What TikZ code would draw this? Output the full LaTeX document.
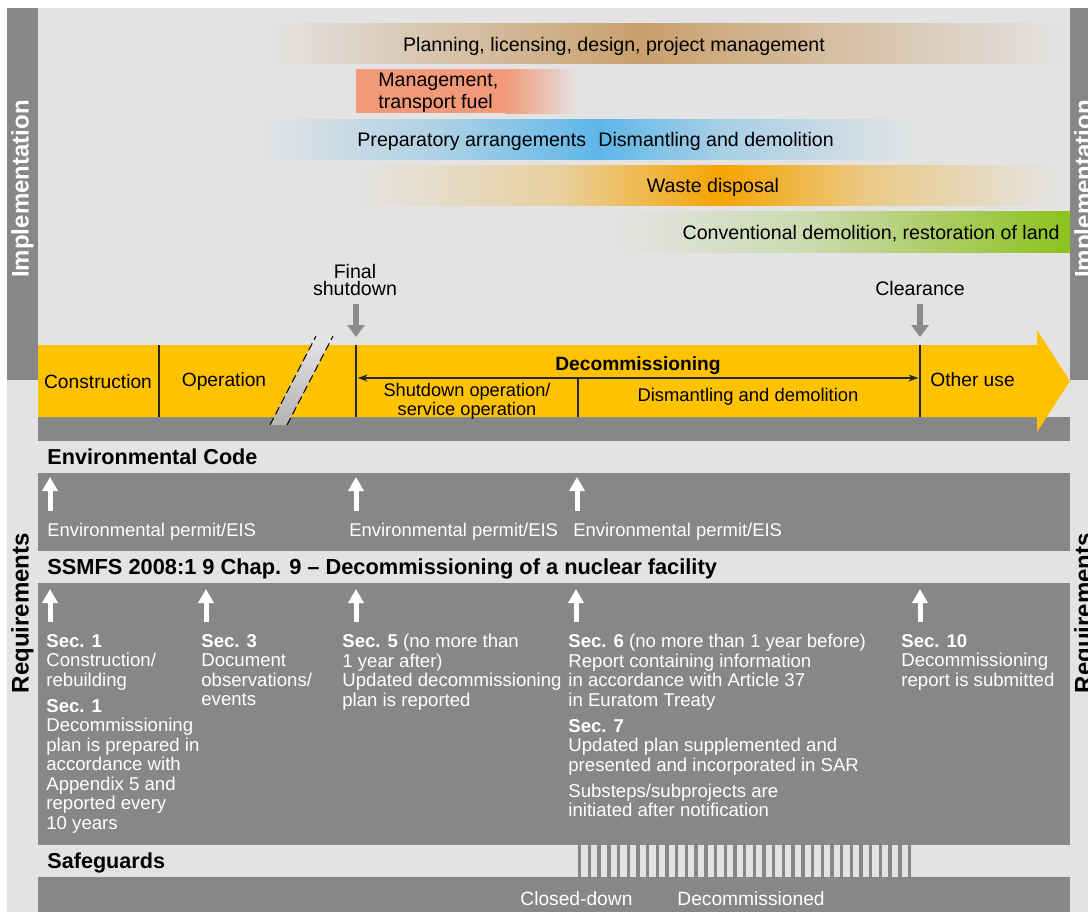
\documentclass[tikz,border=0pt]{standalone}
\usepackage{fontspec}
\setmainfont{Liberation Sans}
\usetikzlibrary{arrows.meta}

\definecolor{bglight}{HTML}{E3E3E3}
\definecolor{boxgray}{HTML}{878787}
\definecolor{arrowgray}{HTML}{8C8C8C}
\definecolor{phaseyellow}{HTML}{FEC200}
\definecolor{planbrown}{HTML}{C9A06D}
\definecolor{fuelred}{HTML}{F2997A}
\definecolor{prepblue}{HTML}{5DB6E8}
\definecolor{wasteorange}{HTML}{F5A400}
\definecolor{landgreen}{HTML}{8CC21E}

\begin{document}
\begin{tikzpicture}[x=0.5pt, y=-0.5pt,
  bandtext/.style={font=\fontsize{9.8}{11}\selectfont, inner sep=0pt},
  phasetext/.style={font=\fontsize{9.6}{8}\selectfont, inner sep=0pt, align=center},
  headtext/.style={font=\fontsize{10.8}{12}\selectfont\bfseries, anchor=base west, inner sep=0pt},
  reqtext/.style={font=\fontsize{9.3}{9.75}\selectfont, text=white, anchor=north west, align=left, inner sep=0pt},
  permtext/.style={font=\fontsize{9.2}{9.75}\selectfont, text=white, anchor=base west, inner sep=0pt},
  sidetext/.style={font=\fontsize{12}{12}\selectfont\bfseries, rotate=90, inner sep=0pt},
  milestone/.style={arrowgray, line width=3pt, -{Triangle[width=8.5pt,length=6pt]}},
  requp/.style={white, line width=2.5pt, -{Triangle[width=7.5pt,length=7pt]}},
  divider/.style={line width=0.6pt, black!85}]
  \useasboundingbox (0,0) rectangle (1088,912);
  \clip (0,0) rectangle (1088,912);

  % ---- background ----
  \fill[white] (0,0) rectangle (1088,912);
  \fill[bglight] (7,8) rectangle (1088,912);
  \fill[boxgray] (7,8) rectangle (38,380);
  \fill[boxgray] (1070,8) rectangle (1088,380);
  \node[sidetext, text=white] (implL) at (22.5,189) {Implementation};
  \node[sidetext, text=white] (implR) at (1085.5,189) {Implementation};
  \node[sidetext] (reqL) at (22.5,613) {Requirements};
  \node[sidetext] (reqR) at (1085.5,613) {Requirements};

  % ---- implementation bands ----
  % Planning
  \shade[left color=bglight, right color=planbrown] (265,23) rectangle (640,63);
  \shade[left color=planbrown, right color=bglight] (639.5,23) rectangle (1068,63);
  \node[bandtext, anchor=base] (plan) at (614,51) {Planning, licensing, design, project management};
  % Management fuel
  \fill[fuelred] (356,69) rectangle (506,113);
  \shade[left color=fuelred, right color=bglight] (505.5,69) rectangle (578,113);
  \node[bandtext, anchor=north west, align=left] (fuel) at (378,72.5) {Management,\\transport fuel};
  % Preparatory / dismantling
  \shade[left color=bglight, right color=prepblue!40!bglight] (258,119) rectangle (440,159);
  \shade[left color=prepblue!40!bglight, right color=prepblue] (439.5,119) rectangle (600,159);
  \shade[left color=prepblue, right color=prepblue!45!bglight] (599.5,119) rectangle (720,159);
  \shade[left color=prepblue!45!bglight, right color=bglight] (719.5,119) rectangle (918,159);
  \node[bandtext, anchor=base west] (prep) at (357,146) {Preparatory arrangements};
  \node[bandtext, anchor=base west] (dism) at (598,146) {Dismantling and demolition};
  % Waste
  \shade[left color=bglight, right color=wasteorange!30!bglight] (355,165) rectangle (560,205);
  \shade[left color=wasteorange!30!bglight, right color=wasteorange] (559.5,165) rectangle (720,205);
  \shade[left color=wasteorange, right color=wasteorange!40!bglight] (719.5,165) rectangle (870,205);
  \shade[left color=wasteorange!40!bglight, right color=bglight] (869.5,165) rectangle (1058,205);
  \node[bandtext, anchor=base] (waste) at (713,192) {Waste disposal};
  % Conventional demolition
  \shade[left color=bglight, right color=landgreen!25!bglight] (610,211) rectangle (800,252);
  \shade[left color=landgreen!25!bglight, right color=landgreen] (799.5,211) rectangle (1070,252);
  \node[bandtext, anchor=base east] (land) at (1060,239) {Conventional demolition, restoration of land};

  % ---- milestones ----
  \node[bandtext, font=\fontsize{9.8}{8.5}\selectfont, align=center, anchor=north] (final) at (355,263.5) {Final\\shutdown};
  \node[bandtext, anchor=base] (clear) at (920,295) {Clearance};
  \coordinate (finalpt) at (356,337);
  \coordinate (clearpt) at (920,337);
  \draw[milestone, shorten <=4pt] (final.south -| finalpt) -- (finalpt);
  \draw[milestone, shorten <=4pt] (clear.south -| clearpt) -- (clearpt);

  % ---- phase arrow ----
  \fill[boxgray] (38,417) rectangle (1070,441);
  \fill[phaseyellow] (38,345) -- (1037,345) -- (1037,330) -- (1070,381)
    -- (1037,432) -- (1037,417) -- (38,417) -- cycle;
  \draw[divider] (159,345) -- (159,417);
  \draw[divider] (356,345) -- (356,417);
  \draw[divider] (578,378) -- (578,417);
  \draw[divider] (920,345) -- (920,417);
  \coordinate (decL) at (356,378);
  \coordinate (decR) at (920,378);
  \draw[divider, {Stealth[length=5pt,width=3.5pt]}-{Stealth[length=5pt,width=3.5pt]}, shorten <=0.8pt, shorten >=0.8pt] (decL) -- (decR);
  % break mark
  \shade[top color=gray!20, bottom color=gray!60] (270,425) -- (316,336) -- (333,336) -- (287,425) -- cycle;
  \draw[line width=0.5pt, dash pattern=on 4pt off 2pt] (270,425) -- (316,336);
  \draw[line width=0.5pt, dash pattern=on 4pt off 2pt] (287,425) -- (333,336);
  \node[phasetext] (constr) at (98,382) {Construction};
  \node[phasetext] (oper) at (224,382) {Operation};
  \node[phasetext, font=\fontsize{9.6}{8}\selectfont\bfseries, anchor=base] (decom) at (638,370) {Decommissioning};
  \node[phasetext, font=\fontsize{9.1}{8}\selectfont, anchor=north] (shut) at (467,382.5) {Shutdown operation/\\service operation};
  \node[phasetext, font=\fontsize{9.2}{8}\selectfont, anchor=base] (dismph) at (748,401) {Dismantling and demolition};
  \node[phasetext, anchor=base west] (other) at (930,386) {Other use};

  % ---- Environmental Code ----
  \node[headtext] (envcode) at (47,464) {Environmental Code};
  \fill[boxgray] (38,473) rectangle (1070,551);
  \foreach \x/\n in {47/permA, 349/permB, 573/permC}
    \node[permtext] (\n) at (\x,536) {Environmental permit/EIS};
  \foreach \x/\n in {50/envA, 356/envB, 577/envC} {
    \coordinate (\n foot) at (\x,511);
    \coordinate (\n tip) at (\x,477);
    \draw[requp] (\n foot) -- (\n tip);
  }

  % ---- SSMFS 2008:1 ----
  \node[headtext, font=\fontsize{10.9}{12}\selectfont\bfseries] (ssmfs) at (47,574) {SSMFS 2008:1 9 Chap. 9 – Decommissioning of a nuclear facility};
  \fill[boxgray] (38,583) rectangle (1070,845);
  \foreach \x/\n in {50/secA, 206/secB, 356/secC, 576/secD, 920/secE} {
    \coordinate (\n foot) at (\x,622);
    \coordinate (\n tip) at (\x,589);
    \draw[requp] (\n foot) -- (\n tip);
  }
  \node[reqtext] (secone) at (46,634) {\textbf{Sec. 1}\\Construction/\\rebuilding\\[3.25pt]
    \textbf{Sec. 1}\\Decommissioning\\plan is prepared in\\accordance with\\Appendix 5 and\\reported every\\10 years};
  \node[reqtext] (secthree) at (201,634) {\textbf{Sec. 3}\\Document\\observations/\\events};
  \node[reqtext] (secfive) at (342,634) {\textbf{Sec. 5} (no more than\\1 year after)\\Updated decommissioning\\plan is reported};
  \node[reqtext] (secsix) at (568,634) {\textbf{Sec. 6} (no more than 1 year before)\\Report containing information\\in accordance with Article 37\\in Euratom Treaty\\[3.25pt]
    \textbf{Sec. 7}\\Updated plan supplemented and\\presented and incorporated in SAR\\[3.25pt]
    Substeps/subprojects are\\initiated after notification};
  \node[reqtext] (secten) at (901,634) {\textbf{Sec. 10}\\Decommissioning\\report is submitted};

  % ---- Safeguards ----
  \node[headtext] (safe) at (47,868) {Safeguards};
  \foreach \k in {0,...,34}
    \fill[boxgray] ({578+\k*9.7},845) rectangle ++(3.4,32);
  \fill[boxgray] (38,877) rectangle (1070,912);
  \node[permtext, font=\fontsize{9.6}{10}\selectfont] (closed) at (520,905) {Closed-down};
  \node[permtext, font=\fontsize{9.6}{10}\selectfont] (decomd) at (677,905) {Decommissioned};
\end{tikzpicture}
\end{document}
